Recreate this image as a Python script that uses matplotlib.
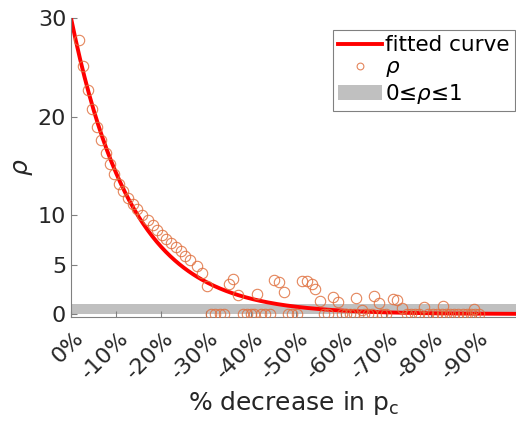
import numpy as np
import matplotlib
matplotlib.use("Agg")
import matplotlib.pyplot as plt
from matplotlib.transforms import ScaledTranslation

# decrease in p_c (fraction) and rho
decrease = [0.018, 0.027, 0.038, 0.047, 0.057, 0.067, 0.077, 0.087, 0.096, 0.107,
            0.116, 0.127, 0.137, 0.147, 0.158, 0.170, 0.182, 0.192, 0.202, 0.211,
            0.222, 0.233, 0.244, 0.254, 0.264, 0.281, 0.292, 0.302,
            0.352, 0.361, 0.372, 0.413, 0.451, 0.462, 0.473, 0.514, 0.524, 0.535,
            0.543, 0.553, 0.583, 0.594, 0.633, 0.646, 0.673, 0.684, 0.715, 0.725,
            0.735, 0.784, 0.826, 0.896,
            0.311, 0.320, 0.331, 0.341, 0.382, 0.390, 0.400, 0.407, 0.422, 0.431,
            0.442, 0.482, 0.490, 0.502, 0.562, 0.572, 0.602, 0.611, 0.620, 0.629,
            0.650, 0.661, 0.668, 0.690, 0.700, 0.746, 0.756, 0.764, 0.774, 0.794,
            0.805, 0.814, 0.824, 0.833, 0.842, 0.851, 0.861, 0.870, 0.879, 0.888,
            0.898, 0.907]
rho = [27.8, 25.1, 22.7, 20.8, 19.0, 17.6, 16.3, 15.2, 14.2, 13.2,
       12.5, 11.8, 11.2, 10.6, 10.0, 9.5, 9.0, 8.5, 8.0, 7.6,
       7.2, 6.8, 6.4, 5.9, 5.5, 4.9, 4.2, 2.8,
       3.0, 3.6, 1.9, 2.0, 3.5, 3.2, 2.2, 3.3, 3.3, 3.0,
       2.5, 1.3, 1.7, 1.2, 1.6, 0.4, 1.8, 1.1, 1.5, 1.4,
       0.6, 0.7, 0.8, 0.5,
       0, 0, 0, 0, 0, 0, 0, 0, 0, 0,
       0, 0, 0, 0, 0, 0, 0, 0, 0, 0,
       0, 0, 0, 0, 0, 0, 0, 0, 0, 0,
       0, 0, 0, 0, 0, 0, 0, 0, 0, 0,
       0, 0]

# fitted exponential rho = a * exp(-k * decrease)
fit_a = 30.0
fit_k = 7.4

xtick_vals = [0, 0.1, 0.2, 0.3, 0.4, 0.5, 0.6, 0.7, 0.8, 0.9]
xtick_labels = ["0%", "-10%", "-20%", "-30%", "-40%", "-50%", "-60%", "-70%", "-80%", "-90%"]
ytick_vals = [0, 5, 10, 20, 30]

plt.rcParams["font.family"] = "DejaVu Sans"
plt.rcParams["mathtext.default"] = "regular"

fig = plt.figure(figsize=(5.16, 4.24), dpi=100)
ax = fig.add_axes([71 / 516, 107 / 424, 445 / 516, 299 / 424])

band = ax.axhspan(0, 1, color="#c0c0c0", lw=0,
                  label="0≤$\\mathit{\\rho}$≤1", zorder=1)
xs = np.linspace(0, 1, 300)
curve, = ax.plot(xs, fit_a * np.exp(-fit_k * xs), color="red", lw=2.8,
                 label="fitted curve", zorder=2)
pts, = ax.plot(decrease, rho, "o", mfc="none", mec="#e0703f", ms=7.5, mew=0.8,
               label=r"$\mathit{\rho}$", zorder=3, alpha=0.85)

ax.set_xlim(0, 445 / 450)
ax.set_ylim(-0.3, 30)
ax.set_xticks(xtick_vals)
ax.set_xticklabels(xtick_labels, rotation=45, ha="right", va="center",
                   rotation_mode="anchor")
ax.set_yticks(ytick_vals)

for s in ["top", "right"]:
    ax.spines[s].set_visible(False)
for s in ["left", "bottom"]:
    ax.spines[s].set_color("#808080")
    ax.spines[s].set_linewidth(0.8)
ax.tick_params(direction="in", length=4, color="#808080", labelsize=16,
               labelcolor="#262626")
ax.tick_params(axis="x", pad=13)
shift = ScaledTranslation(7 / 72, 0, fig.dpi_scale_trans)
for lbl in ax.get_xticklabels():
    lbl.set_transform(lbl.get_transform() + shift)

ax.set_xlabel("% decrease in p$_c$", fontsize=18, color="#262626", labelpad=4)
ax.set_ylabel(r"$\mathit{\rho}$", fontsize=18, color="#262626", labelpad=2)

leg = ax.legend(handles=[curve, pts, band], loc="upper right", fontsize=15.5,
                fancybox=False, edgecolor="#808080", framealpha=1,
                bbox_to_anchor=(0.997, 0.96), borderaxespad=0,
                handlelength=2.0, handletextpad=0.15, markerscale=0.65,
                borderpad=0.25, labelspacing=0.1)
leg.get_frame().set_linewidth(0.8)

fig.savefig("out.png", dpi=100)
